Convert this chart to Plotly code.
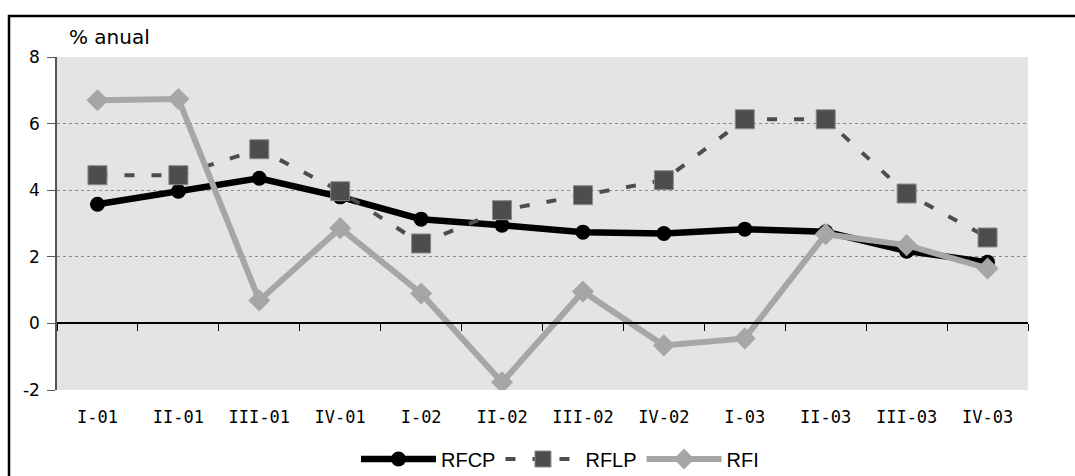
import plotly.graph_objects as go

categories = ["I-01", "II-01", "III-01", "IV-01", "I-02", "II-02", "III-02", "IV-02",
              "I-03", "II-03", "III-03", "IV-03"]
rfcp = [3.58, 3.97, 4.36, 3.80, 3.13, 2.95, 2.74, 2.70, 2.83, 2.75, 2.17, 1.84]
rflp = [4.45, 4.45, 5.23, 3.97, 2.40, 3.40, 3.85, 4.30, 6.13, 6.13, 3.90, 2.58]
rfi = [6.70, 6.74, 0.69, 2.86, 0.90, -1.77, 0.96, -0.66, -0.45, 2.68, 2.35, 1.65]
y_ticks = [-2, 0, 2, 4, 6, 8]
y_tick_labels = ["-2", "0", "2", "4", "6", "8"]

W, H = 1075, 476
L, R, T, B = 57, 47, 57, 86
pw, ph = W - L - R, H - T - B

fig = go.Figure()
fig.add_trace(go.Scatter(x=categories, y=rfcp, name="RFCP", mode="lines+markers",
                         line=dict(color="black", width=6.5),
                         marker=dict(symbol="circle", size=15, color="black")))
fig.add_trace(go.Scatter(x=categories, y=rflp, name="RFLP", mode="lines+markers",
                         line=dict(color="#4d4d4d", width=4, dash="10px,17px"),
                         marker=dict(symbol="square", size=19, color="#4d4d4d",
                                     line=dict(color="#8a8a8a", width=1))))
fig.add_trace(go.Scatter(x=categories, y=rfi, name="RFI", mode="lines+markers",
                         line=dict(color="#a6a6a6", width=6),
                         marker=dict(symbol="diamond", size=17, color="#a6a6a6")))
# invisible trace to carry the zero-line axis with boundary ticks
fig.add_trace(go.Scatter(x=categories, y=[None] * len(categories), xaxis="x2",
                         showlegend=False, hoverinfo="skip", mode="lines"))

zero_pos = (0 - y_ticks[0]) / (y_ticks[-1] - y_ticks[0])

fig.update_layout(
    width=W, height=H,
    margin=dict(l=L, r=R, t=T, b=B, autoexpand=False),
    paper_bgcolor="white",
    plot_bgcolor="#e4e4e4",
    font=dict(family="DejaVu Sans", size=17, color="black"),
    xaxis=dict(type="category", categoryorder="array", categoryarray=categories,
               range=[-0.5, 11.5], showgrid=False, zeroline=False, showline=False,
               ticks="", tickfont=dict(family="DejaVu Sans Mono", size=17),
               ticklabelstandoff=15, automargin=False),
    xaxis2=dict(type="category", categoryorder="array", categoryarray=categories,
                overlaying="x", anchor="free", position=zero_pos,
                range=[-0.5, 11.5], showline=True, linecolor="black", linewidth=1.5,
                ticks="outside", ticklen=7, tickcolor="black", tickwidth=1.2,
                tickson="boundaries", showticklabels=False, showgrid=False,
                zeroline=False, automargin=False),
    yaxis=dict(range=[y_ticks[0], y_ticks[-1]], tickvals=y_ticks, ticktext=y_tick_labels,
               showgrid=True,
               gridcolor="#8c8c8c", griddash="dot", gridwidth=1, zeroline=False,
               showline=True, linecolor="#555555", linewidth=1.5,
               ticks="outside", ticklen=8, tickcolor="#555555",
               ticklabelstandoff=4, automargin=False,
               tickfont=dict(family="DejaVu Sans", size=17)),
    legend=dict(orientation="h", x=(560 - L) / pw, xanchor="center",
                yref="container", y=(H - 459) / H, yanchor="middle",
                itemwidth=75, font=dict(family="Liberation Sans", size=20),
                bgcolor="rgba(0,0,0,0)", tracegroupgap=0, itemsizing="trace"),
    showlegend=True,
)

fig.add_annotation(text="% anual", xref="paper", yref="paper",
                   x=(67 - L) / pw, y=(H - B - 37) / ph, xanchor="left", yanchor="middle",
                   showarrow=False, font=dict(family="DejaVu Sans", size=20))

# outer frame
fig.add_shape(type="rect", xref="paper", yref="paper",
              x0=(9 - L) / pw, x1=(W + 200 - L) / pw,
              y0=(H - B - (H + 200)) / ph, y1=(H - B - 16) / ph,
              line=dict(color="black", width=2.5), fillcolor="rgba(0,0,0,0)", layer="above")

fig.write_html("out.html", config={"displayModeBar": False},
               post_script="document.body.style.margin='0';document.body.style.overflow='hidden';")
